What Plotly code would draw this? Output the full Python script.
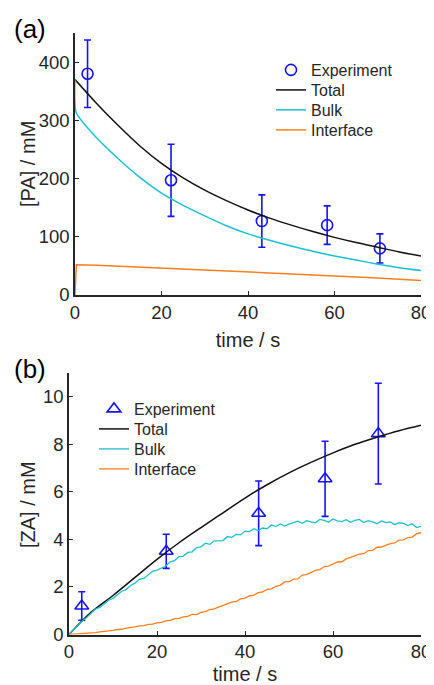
import plotly.graph_objects as go

# ---- panel (a): [PA] decay ----
t_exp_a = [2.9, 22.2, 43.2, 58.3, 70.5]
pa_exp = [380, 197, 127, 120, 80]
pa_err = [58, 62, 45, 33, 25]

t_total_a = [0, 5, 10, 15, 20, 25, 30, 35, 40, 45, 50, 55, 60, 65, 70, 75, 80]
pa_total = [370, 329, 291, 256, 226, 201, 180, 162, 146, 132, 120, 109, 99, 90, 82, 74, 67]

t_split_a = [0, 0.3, 5, 10, 15, 20, 25, 30, 35, 40, 45, 50, 55, 60, 65, 70, 75, 80]
pa_bulk = [370, 313, 270, 234, 202, 175, 154, 136, 119, 105, 94, 84, 75, 67, 60, 53, 47, 42]
pa_interface = [0, 52, 51, 49.5, 48, 46.5, 45, 43, 41, 39.5, 38, 36, 34.5, 33, 31, 29, 27, 25]

# ---- panel (b): [ZA] growth ----
t_exp_b = [2.9, 22.1, 43.1, 58.2, 70.3]
za_exp = [1.2, 3.5, 5.1, 6.55, 8.45]
za_err = [0.6, 0.72, 1.36, 1.58, 2.12]

t_total_b = [0, 5, 10, 15, 20, 25, 30, 35, 40, 45, 50, 55, 60, 65, 70, 75, 80]
za_total = [0, 0.93, 1.64, 2.40, 3.16, 3.86, 4.50, 5.12, 5.74, 6.30, 6.80, 7.24, 7.64, 8.00, 8.30, 8.57, 8.80]

t_sim_b = list(range(0, 81))
za_bulk = [0.00, 0.19, 0.35, 0.57, 0.71, 0.91, 1.07, 1.14, 1.28, 1.44,
           1.52, 1.68, 1.82, 1.89, 2.06, 2.16, 2.32, 2.36, 2.52, 2.66,
           2.71, 2.79, 2.88, 3.06, 3.11, 3.28, 3.30, 3.45, 3.48, 3.66,
           3.69, 3.84, 3.79, 3.94, 3.95, 3.95, 4.12, 4.09, 4.21, 4.19,
           4.35, 4.33, 4.45, 4.37, 4.48, 4.45, 4.61, 4.54, 4.65, 4.56,
           4.64, 4.72, 4.77, 4.68, 4.79, 4.74, 4.70, 4.84, 4.80, 4.72,
           4.86, 4.78, 4.75, 4.83, 4.72, 4.80, 4.84, 4.71, 4.79, 4.74,
           4.66, 4.78, 4.71, 4.74, 4.62, 4.70, 4.67, 4.58, 4.66, 4.50,
           4.55]
za_interface = [0.00, 0.01, 0.02, 0.03, 0.05, 0.07, 0.08, 0.11, 0.12, 0.16,
                0.17, 0.21, 0.22, 0.27, 0.28, 0.32, 0.36, 0.37, 0.43, 0.44,
                0.49, 0.51, 0.57, 0.59, 0.67, 0.68, 0.74, 0.76, 0.85, 0.84,
                0.93, 0.96, 1.05, 1.08, 1.15, 1.22, 1.27, 1.36, 1.39, 1.50,
                1.53, 1.62, 1.66, 1.76, 1.79, 1.90, 1.92, 2.03, 2.07, 2.21,
                2.22, 2.33, 2.34, 2.50, 2.52, 2.60, 2.70, 2.73, 2.86, 2.88,
                2.96, 3.05, 3.06, 3.18, 3.24, 3.30, 3.38, 3.40, 3.53, 3.54,
                3.67, 3.68, 3.76, 3.82, 3.85, 3.97, 3.98, 4.08, 4.10, 4.24,
                4.28]

BLUE = "#1414F5"
BLACK = "#111111"
CYAN = "#1CBFD0"
ORANGE = "#FF7F1E"
AXIS = "#262626"
FONT = "Liberation Sans, Arial, sans-serif"

# the page body has an 8px margin, so the figure is drawn 8px in from the corner
PAD = 8
W, H = 434 - PAD, 685 - PAD


def px(x):
    return (x - PAD) / W


def py(y):
    return 1 - (y - PAD) / H


fig = go.Figure()

# (a)
fig.add_trace(go.Scatter(
    x=t_exp_a, y=pa_exp, mode="markers", name="Experiment",
    marker=dict(symbol="circle-open", size=11, color=BLUE, line=dict(width=1.6)),
    error_y=dict(type="data", array=pa_err, color=BLUE, thickness=1.6, width=3.5),
    xaxis="x", yaxis="y", legend="legend"))
fig.add_trace(go.Scatter(x=t_total_a, y=pa_total, mode="lines", name="Total",
                         line=dict(color=BLACK, width=1.5, shape="spline"),
                         xaxis="x", yaxis="y", legend="legend2"))
fig.add_trace(go.Scatter(x=t_split_a, y=pa_bulk, mode="lines", name="Bulk",
                         line=dict(color=CYAN, width=1.5, shape="spline", smoothing=0.6),
                         xaxis="x", yaxis="y", legend="legend3"))
fig.add_trace(go.Scatter(x=t_split_a, y=pa_interface, mode="lines", name="Interface",
                         line=dict(color=ORANGE, width=1.5),
                         xaxis="x", yaxis="y", legend="legend4"))

# (b)
fig.add_trace(go.Scatter(
    x=t_exp_b, y=za_exp, mode="markers", name="Experiment",
    marker=dict(symbol="triangle-up-open", size=12, color=BLUE, line=dict(width=1.6)),
    error_y=dict(type="data", array=za_err, color=BLUE, thickness=1.6, width=3.5),
    xaxis="x2", yaxis="y2", legend="legend5"))
fig.add_trace(go.Scatter(x=t_total_b, y=za_total, mode="lines", name="Total",
                         line=dict(color=BLACK, width=1.5, shape="spline"),
                         xaxis="x2", yaxis="y2", legend="legend6"))
fig.add_trace(go.Scatter(x=t_sim_b, y=za_bulk, mode="lines", name="Bulk",
                         line=dict(color=CYAN, width=1.3),
                         xaxis="x2", yaxis="y2", legend="legend7"))
fig.add_trace(go.Scatter(x=t_sim_b, y=za_interface, mode="lines", name="Interface",
                         line=dict(color=ORANGE, width=1.3),
                         xaxis="x2", yaxis="y2", legend="legend8"))

axis_common = dict(
    showline=True, linecolor=AXIS, linewidth=1.5, mirror=False,
    ticks="inside", ticklen=4, tickwidth=1, tickcolor=AXIS,
    showgrid=False, zeroline=False, automargin=False,
    tickfont=dict(family=FONT, size=18.5, color=AXIS),
)


def xa(domain, anchor):
    return dict(axis_common, domain=domain, anchor=anchor, range=[0, 80],
                tickvals=[0, 20, 40, 60, 80],
                title=dict(text="time / s", font=dict(family=FONT, size=20, color=AXIS), standoff=11))


def ya(domain, anchor, rng, ticks):
    return dict(axis_common, domain=domain, anchor=anchor, range=rng, tickvals=ticks)


def leg(x_px, y_px):
    return dict(font=dict(family=FONT, size=16, color=AXIS), bgcolor="rgba(0,0,0,0)",
                borderwidth=0, xanchor="left", yanchor="middle", itemwidth=30,
                x=px(x_px), y=py(y_px))


def label(text, x_px, y_px, size, angle=0, color=AXIS):
    return dict(text=text, x=px(x_px), y=py(y_px), xref="paper", yref="paper",
                xanchor="center" if angle else "left", yanchor="middle",
                textangle=angle, showarrow=False,
                font=dict(family=FONT, size=size, color=color))


fig.update_layout(
    width=W, height=H,
    margin=dict(l=0, r=0, t=0, b=0),
    paper_bgcolor="white", plot_bgcolor="white",
    showlegend=True,
    xaxis=xa([px(75), px(421)], "y"),
    yaxis=ya([py(295), py(33)], "x", [0, 450], [0, 100, 200, 300, 400]),
    xaxis2=xa([px(69), px(421)], "y2"),
    yaxis2=ya([py(634.5), py(373)], "x2", [0, 11], [0, 2, 4, 6, 8, 10]),
    legend=leg(271, 70), legend2=leg(271, 90), legend3=leg(271, 110), legend4=leg(271, 130),
    legend5=leg(94, 409), legend6=leg(94, 429), legend7=leg(94, 449), legend8=leg(94, 469),
    annotations=[
        label("(a)", 12, 29, 26, color="black"),
        label("(b)", 12, 369, 26, color="black"),
        label("[PA] / mM", 28, 164, 20, angle=-90),
        label("[ZA] / mM", 28, 505, 20, angle=-90),
    ],
)

fig.write_html("out.html")
